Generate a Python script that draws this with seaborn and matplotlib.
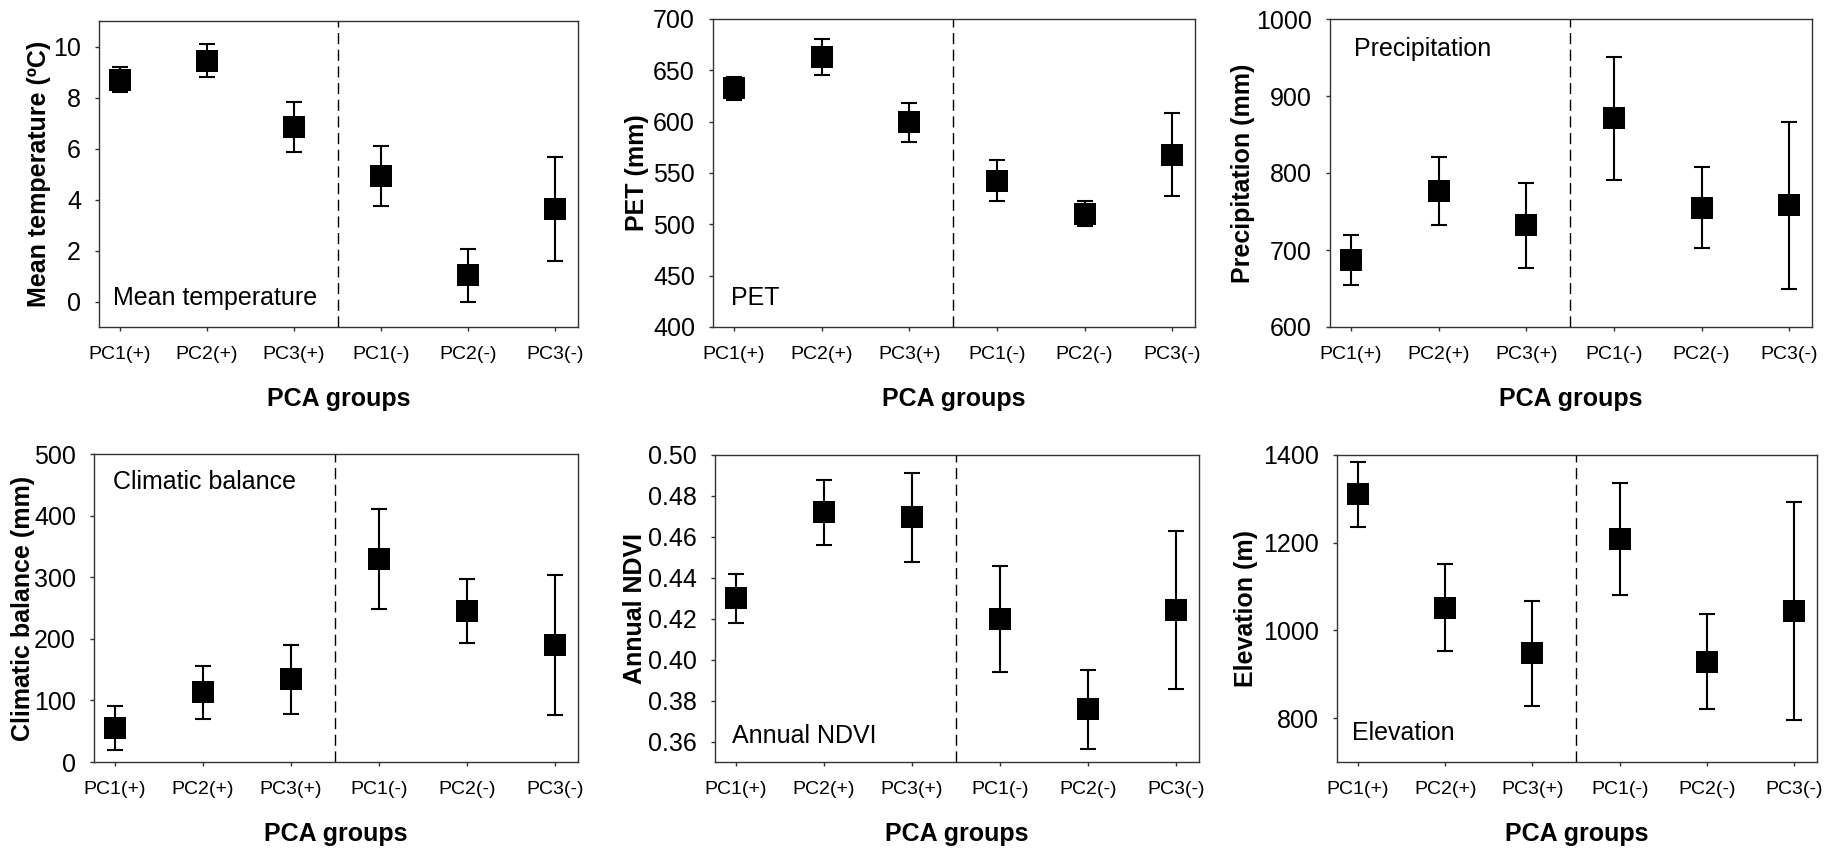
import numpy as np
import pandas as pd
import matplotlib
matplotlib.use("Agg")
import matplotlib.pyplot as plt
from matplotlib.ticker import FormatStrFormatter
import seaborn as sns

# PCA groups on the x axis
groups = ["PC1(+)", "PC2(+)", "PC3(+)", "PC1(-)", "PC2(-)", "PC3(-)"]

# mean values and error half-widths
temp_mean = [8.7, 9.45, 6.85, 4.93, 1.03, 3.62]
temp_err = [0.5, 0.66, 0.97, 1.17, 1.03, 2.03]

pet_mean = [632.5, 663, 599.5, 542.5, 510.5, 568]
pet_err = [11, 17.5, 19, 20, 12, 40]

prec_mean = [687, 777, 732, 871, 755, 758]
prec_err = [32.5, 44, 55, 80, 53, 108]

cb_mean = [55, 113, 134, 329, 245, 190]
cb_err = [35.5, 42.5, 55.5, 81, 52, 114]

ndvi_mean = [0.430, 0.472, 0.4695, 0.420, 0.3757, 0.4243]
ndvi_err = [0.012, 0.016, 0.0217, 0.026, 0.0194, 0.0387]

elev_mean = [1310, 1052, 948, 1208, 929, 1044]
elev_err = [75, 100, 120, 128, 108, 249]

sns.set_style("ticks")
plt.rcParams['font.family'] = ['Liberation Sans', 'DejaVu Sans']
plt.rcParams['text.color'] = 'black'
plt.rcParams['axes.labelcolor'] = 'black'
plt.rcParams['xtick.labelcolor'] = 'black'
plt.rcParams['ytick.labelcolor'] = 'black'

W, H = 1841, 848
fig = plt.figure(figsize=(W / 100, H / 100), dpi=100)

# (mean, err, ylabel, inner text, ylim, yticks, fmt,
#  axes box px [left, top, right, bottom], text pos, ylabel offset px)
panels = [
    (temp_mean, temp_err, "Mean temperature (\u00baC)", "Mean temperature",
     (-1, 11), np.arange(0, 11, 2), "%d",
     [99, 21, 578, 327], (0.029, 0.072), 48),
    (pet_mean, pet_err, "PET (mm)", "PET",
     (400, 700), np.arange(400, 701, 50), "%d",
     [713, 19, 1195, 327], (0.037, 0.072), 64),
    (prec_mean, prec_err, "Precipitation (mm)", "Precipitation",
     (600, 1000), np.arange(600, 1001, 100), "%d",
     [1330, 19, 1812, 327], (0.05, 0.88), 75),
    (cb_mean, cb_err, "Climatic balance (mm)", "Climatic balance",
     (0, 500), np.arange(0, 501, 100), "%d",
     [94, 454, 578, 762], (0.039, 0.886), 59),
    (ndvi_mean, ndvi_err, "Annual NDVI", "Annual NDVI",
     (0.35, 0.50), np.arange(0.36, 0.501, 0.02), "%.2f",
     [715, 455, 1199, 762], (0.036, 0.062), 68),
    (elev_mean, elev_err, "Elevation (m)", "Elevation",
     (700, 1400), np.arange(800, 1401, 200), "%d",
     [1337, 455, 1817, 762], (0.032, 0.072), 79),
]

for (mean, err, ylab, label, ylim, yticks, fmt, box, tpos, yoff) in panels:
    l, t, r, b = box
    ax = fig.add_axes([l / W, 1 - b / H, (r - l) / W, (b - t) / H])
    df = pd.DataFrame({"group": groups, "mean": mean, "err": err})

    ax.errorbar(df["group"], df["mean"], yerr=df["err"], fmt="none",
                ecolor="black", elinewidth=1.5, capsize=6, capthick=1.5,
                zorder=2)
    sns.scatterplot(data=df, x="group", y="mean", marker="s", s=260,
                    color="black", edgecolor="black", linewidth=0,
                    ax=ax, zorder=3)

    ax.set_xlim(-0.24, 5.26)
    ax.set_ylim(*ylim)
    ax.set_yticks(yticks)
    ax.yaxis.set_major_formatter(FormatStrFormatter(fmt))
    ax.axvline(2.5, color="black", lw=1, dashes=(8, 4), zorder=1)

    for sp in ax.spines.values():
        sp.set_color("#333333")
        sp.set_linewidth(1)

    ax.tick_params(axis="x", length=3, width=1, pad=11, labelsize=14,
                   color="#333333")
    ax.tick_params(axis="y", length=3, width=1, pad=10, labelsize=18,
                   color="#333333")

    ax.set_xlabel("PCA groups", fontsize=18, fontweight="bold", labelpad=17)
    ax.set_ylabel(ylab, fontsize=18, fontweight="bold")
    ax.yaxis.set_label_coords(-yoff / (r - l), 0.5)

    ax.text(tpos[0], tpos[1], label, transform=ax.transAxes,
            fontsize=18, va="baseline", ha="left")

fig.savefig("out.png", dpi=100)
